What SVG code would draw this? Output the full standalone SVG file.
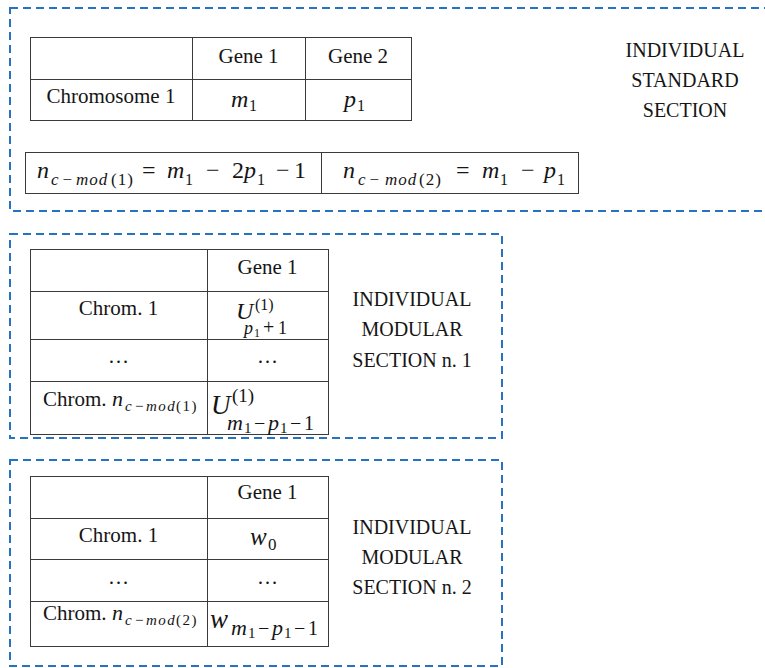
<svg xmlns="http://www.w3.org/2000/svg" width="765" height="668" viewBox="0 0 765 668">
<style>
.bg{fill:#ffffff}
.dash{fill:none;stroke:#2674C1;stroke-width:2;stroke-dasharray:8 5}
.tbl{fill:none;stroke:#3a3a3a;stroke-width:1}
.t{font-family:"Liberation Serif","Times New Roman",serif;font-size:21px;fill:#151515}
.c{text-anchor:middle}
.lbl{font-family:"Liberation Serif","Times New Roman",serif;font-size:20px;fill:#151515;text-anchor:middle}
.i{font-style:italic}
</style>
<rect class="bg" x="0" y="0" width="765" height="668"/>

<g id="standard-section">
  <rect class="dash" x="10" y="8" width="775" height="203"/>
  <g id="standard-table">
    <rect class="tbl" x="30.5" y="37.5" width="381" height="83"/>
    <line class="tbl" x1="30.5" y1="79.5" x2="411.5" y2="79.5"/>
    <line class="tbl" x1="192.5" y1="37.5" x2="192.5" y2="120.5"/>
    <line class="tbl" x1="305.5" y1="37.5" x2="305.5" y2="120.5"/>
    <text class="t c" x="248.5" y="63">Gene 1</text>
    <text class="t c" x="358" y="63">Gene 2</text>
    <text class="t c" x="111" y="103">Chromosome 1</text>
    <text class="t"><tspan class="i" x="231" y="107" font-size="24">m</tspan><tspan x="249" y="111" font-size="16">1</tspan></text>
    <text class="t"><tspan class="i" x="344" y="107" font-size="24">p</tspan><tspan x="357" y="111" font-size="16">1</tspan></text>
  </g>
  <g id="formula-table">
    <rect class="tbl" x="25.5" y="152.5" width="553" height="41"/>
    <line class="tbl" x1="321.5" y1="152.5" x2="321.5" y2="193.5"/>
    <text class="t"><tspan class="i" x="37" y="178" font-size="24">n</tspan><tspan class="i" x="51" y="185" font-size="17">c</tspan><tspan x="62.5" y="185" font-size="17">−</tspan><tspan class="i" x="76" y="185" font-size="17" letter-spacing="1">mod</tspan><tspan x="111" y="185" font-size="17" letter-spacing="1">(1)</tspan><tspan x="142" y="178" font-size="24">=</tspan><tspan class="i" x="167" y="178" font-size="24">m</tspan><tspan x="185" y="185" font-size="16">1</tspan><tspan x="206" y="178" font-size="24">−</tspan><tspan x="232" y="178" font-size="24">2</tspan><tspan class="i" x="244" y="178" font-size="24">p</tspan><tspan x="257" y="185" font-size="16">1</tspan><tspan x="276" y="178" font-size="24">−</tspan><tspan x="294" y="178" font-size="24">1</tspan></text>
    <text class="t"><tspan class="i" x="343" y="178" font-size="24">n</tspan><tspan class="i" x="358" y="185" font-size="17">c</tspan><tspan x="369.5" y="185" font-size="17">−</tspan><tspan class="i" x="385" y="185" font-size="17" letter-spacing="1">mod</tspan><tspan x="419" y="185" font-size="17" letter-spacing="1">(2)</tspan><tspan x="456" y="178" font-size="24">=</tspan><tspan class="i" x="482" y="178" font-size="24">m</tspan><tspan x="500" y="185" font-size="16">1</tspan><tspan x="521" y="178" font-size="24">−</tspan><tspan class="i" x="544" y="178" font-size="24">p</tspan><tspan x="557" y="185" font-size="16">1</tspan></text>
  </g>
  <text class="lbl" x="685" y="57">INDIVIDUAL</text>
  <text class="lbl" x="685" y="87">STANDARD</text>
  <text class="lbl" x="685" y="117">SECTION</text>
</g>

<g id="modular-section-1">
  <rect class="dash" x="10" y="234" width="492" height="204"/>
  <g id="modular-table-1">
    <rect class="tbl" x="30.5" y="249.5" width="298" height="185"/>
    <line class="tbl" x1="30.5" y1="291.5" x2="328.5" y2="291.5"/>
    <line class="tbl" x1="30.5" y1="339.5" x2="328.5" y2="339.5"/>
    <line class="tbl" x1="30.5" y1="381.5" x2="328.5" y2="381.5"/>
    <line class="tbl" x1="207.5" y1="249.5" x2="207.5" y2="434.5"/>
    <text class="t c" x="267.5" y="274">Gene 1</text>
    <text class="t c" x="118.5" y="315">Chrom. 1</text>
    <text class="t"><tspan class="i" x="236" y="319" font-size="24">U</tspan><tspan x="255" y="310" font-size="16">(1)</tspan><tspan class="i" x="244" y="334" font-size="18">p</tspan><tspan x="254" y="337" font-size="12">1</tspan><tspan x="263" y="334" font-size="20">+</tspan><tspan x="278" y="334" font-size="18">1</tspan></text>
    <text class="t c" x="118.5" y="363">…</text>
    <text class="t c" x="267.5" y="363">…</text>
    <text class="t"><tspan x="43" y="406">Chrom.</tspan><tspan class="i" x="112" y="406" font-size="22">n</tspan><tspan class="i" x="125" y="411" font-size="15">c</tspan><tspan x="135" y="411" font-size="15">−</tspan><tspan class="i" x="146" y="411" font-size="15" letter-spacing="1.5">mod</tspan><tspan x="176" y="411" font-size="15" letter-spacing="1.5">(1)</tspan></text>
    <text class="t"><tspan class="i" x="211" y="414" font-size="27">U</tspan><tspan x="232" y="402" font-size="19">(1)</tspan><tspan class="i" x="227" y="430" font-size="22">m</tspan><tspan x="244" y="433" font-size="15">1</tspan><tspan x="254" y="430" font-size="20">−</tspan><tspan class="i" x="268" y="430" font-size="22">p</tspan><tspan x="280" y="433" font-size="15">1</tspan><tspan x="290" y="430" font-size="20">−</tspan><tspan x="304" y="430" font-size="20">1</tspan></text>
  </g>
  <text class="lbl" x="412" y="306">INDIVIDUAL</text>
  <text class="lbl" x="412" y="336">MODULAR</text>
  <text class="lbl" x="412" y="367">SECTION n. 1</text>
</g>

<g id="modular-section-2">
  <rect class="dash" x="10" y="460" width="492" height="206"/>
  <g id="modular-table-2">
    <rect class="tbl" x="30.5" y="476.5" width="298" height="170"/>
    <line class="tbl" x1="30.5" y1="518.5" x2="328.5" y2="518.5"/>
    <line class="tbl" x1="30.5" y1="559.5" x2="328.5" y2="559.5"/>
    <line class="tbl" x1="30.5" y1="601.5" x2="328.5" y2="601.5"/>
    <line class="tbl" x1="207.5" y1="476.5" x2="207.5" y2="646.5"/>
    <text class="t c" x="267.5" y="499">Gene 1</text>
    <text class="t c" x="118.5" y="542">Chrom. 1</text>
    <text class="t"><tspan class="i" x="250" y="545" font-size="25">w</tspan><tspan x="268" y="550" font-size="17">0</tspan></text>
    <text class="t c" x="118.5" y="584">…</text>
    <text class="t c" x="267.5" y="584">…</text>
    <text class="t"><tspan x="43" y="620">Chrom.</tspan><tspan class="i" x="112" y="620" font-size="22">n</tspan><tspan class="i" x="125" y="625" font-size="15">c</tspan><tspan x="135" y="625" font-size="15">−</tspan><tspan class="i" x="146" y="625" font-size="15" letter-spacing="1.5">mod</tspan><tspan x="176" y="625" font-size="15" letter-spacing="1.5">(2)</tspan></text>
    <text class="t"><tspan class="i" x="210" y="628" font-size="27">w</tspan><tspan class="i" x="231" y="635" font-size="22">m</tspan><tspan x="248" y="638" font-size="15">1</tspan><tspan x="258" y="635" font-size="20">−</tspan><tspan class="i" x="272" y="635" font-size="22">p</tspan><tspan x="284" y="638" font-size="15">1</tspan><tspan x="294" y="635" font-size="20">−</tspan><tspan x="308" y="635" font-size="20">1</tspan></text>
  </g>
  <text class="lbl" x="412" y="534">INDIVIDUAL</text>
  <text class="lbl" x="412" y="564">MODULAR</text>
  <text class="lbl" x="412" y="594">SECTION n. 2</text>
</g>

<g id="connectors"></g>
</svg>
